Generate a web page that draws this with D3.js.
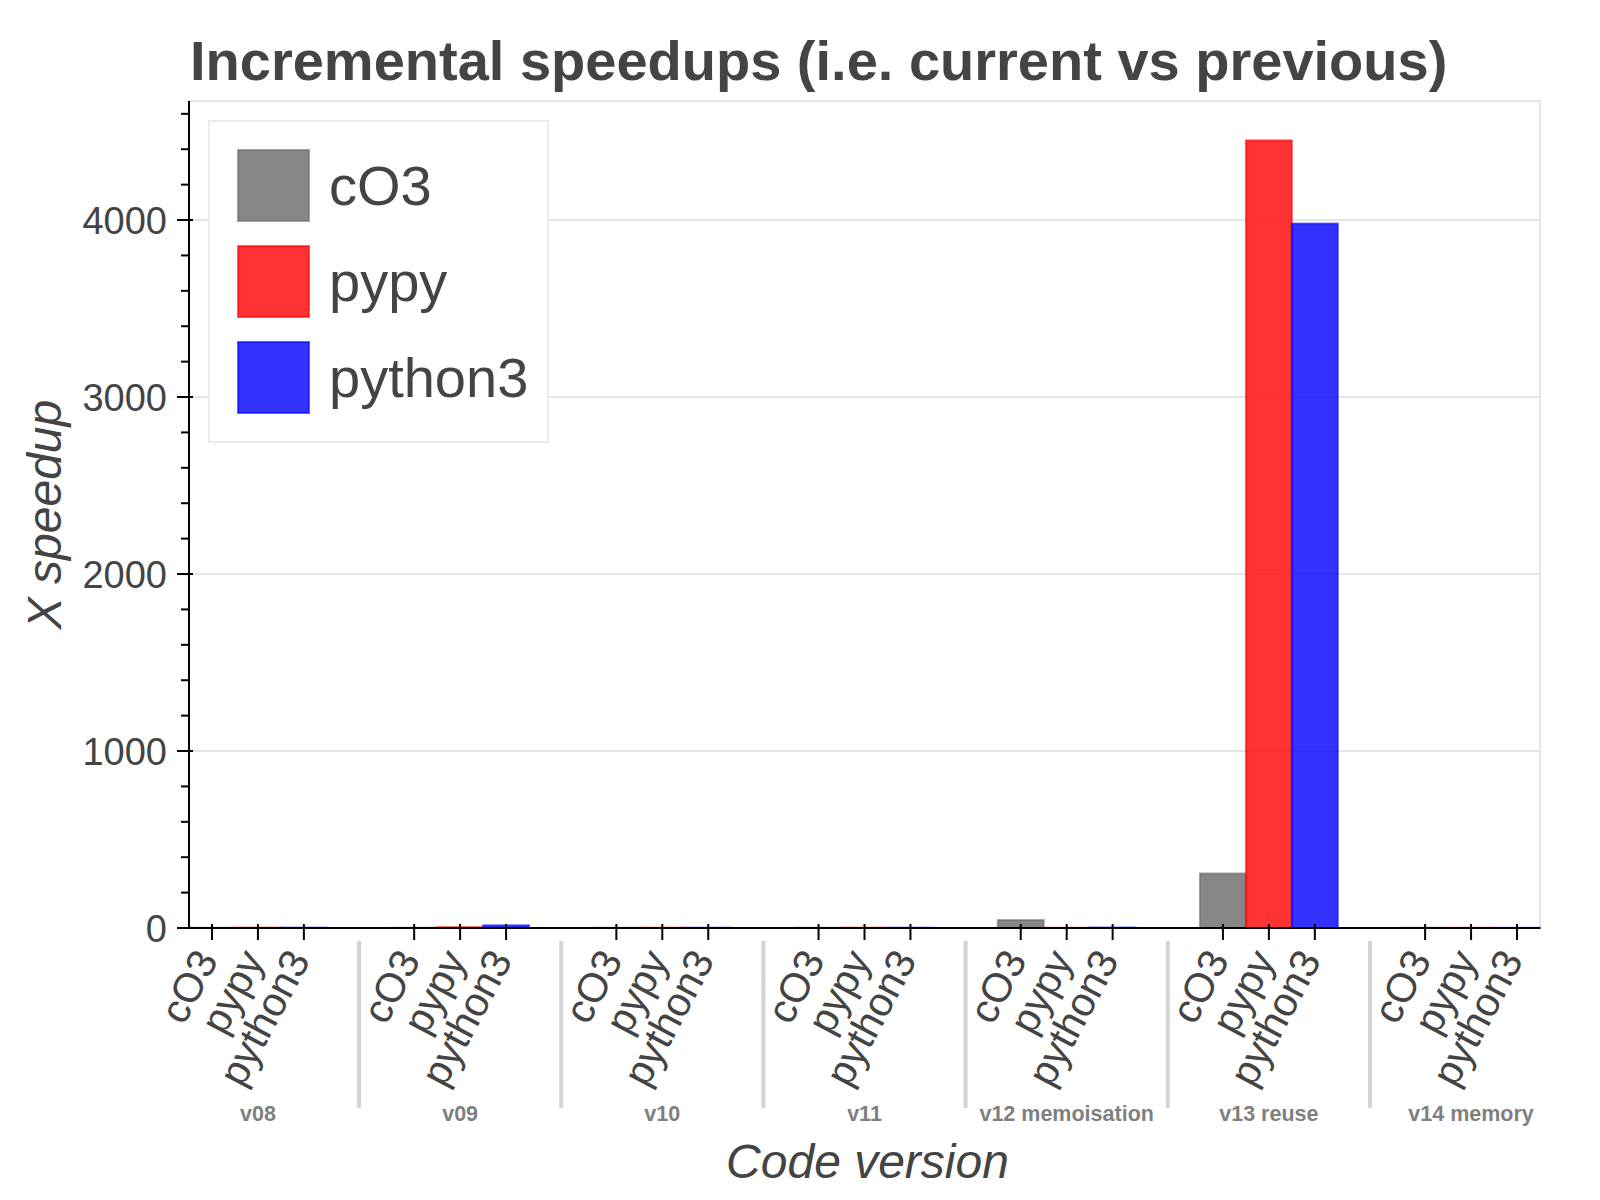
<!DOCTYPE html>
<html>
<head>
<meta charset="utf-8">
<script src="https://cdn.jsdelivr.net/npm/d3@7"></script>
<style>
  html, body { margin: 0; padding: 0; background: #fff; }
  svg { display: block; }
  text { font-family: "Liberation Sans", Arial, Helvetica, sans-serif; }
</style>
</head>
<body>
<svg id="chart" width="1600" height="1200"></svg>
<script>
// ---- data ----
const groups = ["v08", "v09", "v10", "v11", "v12 memoisation", "v13 reuse", "v14 memory"];
const seriesNames = ["cO3", "pypy", "python3"];
const cO3Values     = [1.2, 1.5, 1.1, 1.3, 45, 308, 1.0];
const pypyValues    = [2.0, 5.0, 1.5, 1.6, 1.2, 4450, 1.1];
const python3Values = [1.8, 15, 1.4, 1.5, 2.5, 3980, 1.0];
const yTicks = [0, 1000, 2000, 3000, 4000];
const titleText = "Incremental speedups (i.e. current vs previous)";
const xLabel = "Code version";
const yLabel = "X speedup";

const seriesValues = { cO3: cO3Values, pypy: pypyValues, python3: python3Values };
const colors = { cO3: "#696969", pypy: "#ff0000", python3: "#0000ff" };

// ---- layout ----
const frame = { left: 189, right: 1540, top: 101, bottom: 928 };
const textColor = "#444444";

const svg = d3.select("#chart");

// categorical x: nested factors with group padding (Bokeh-like)
const groupPadding = 1.4;
const nPer = seriesNames.length;
const totalUnits = groups.length * nPer + (groups.length - 1) * groupPadding;
const xUnit = d3.scaleLinear().domain([0, totalUnits]).range([frame.left, frame.right]);
function factorCenter(gi, si) { return xUnit(gi * (nPer + groupPadding) + si + 0.5); }
function groupCenter(gi) { return xUnit(gi * (nPer + groupPadding) + nPer / 2); }
function separatorX(gi) { return xUnit(gi * (nPer + groupPadding) + nPer + groupPadding / 2); }
const unitPx = xUnit(1) - xUnit(0);

const maxVal = d3.max(seriesNames.flatMap(s => seriesValues[s]));
const yMax = maxVal * 1.05;
const y = d3.scaleLinear().domain([0, yMax]).range([frame.bottom, frame.top]);

// frame outline
svg.append("rect")
  .attr("x", frame.left).attr("y", frame.top)
  .attr("width", frame.right - frame.left).attr("height", frame.bottom - frame.top)
  .attr("fill", "#fff").attr("stroke", "#e5e5e5").attr("stroke-width", 2);

// grid
svg.append("g").selectAll("line").data(yTicks.filter(t => t > 0)).join("line")
  .attr("x1", frame.left).attr("x2", frame.right)
  .attr("y1", d => y(d)).attr("y2", d => y(d))
  .attr("stroke", "#e5e5e5").attr("stroke-width", 2);

// bars
const barData = [];
groups.forEach((g, gi) => seriesNames.forEach((s, si) => barData.push({ g, gi, s, si, v: seriesValues[s][gi] })));
svg.append("g").selectAll("rect").data(barData).join("rect")
  .attr("x", d => factorCenter(d.gi, d.si) - unitPx / 2)
  .attr("width", unitPx)
  .attr("y", d => y(d.v))
  .attr("height", d => y(0) - y(d.v))
  .attr("fill", d => colors[d.s]).attr("fill-opacity", 0.8)
  .attr("stroke", d => colors[d.s]).attr("stroke-opacity", 0.6).attr("stroke-width", 2);

// y axis
const yAxis = d3.axisLeft(y).tickValues(yTicks).tickSize(0).tickPadding(0).tickFormat(d3.format("d"));
const yAxisG = svg.append("g").attr("transform", `translate(${frame.left},0)`);
yAxisG.append("line").attr("x1", 0).attr("x2", 0).attr("y1", frame.top).attr("y2", frame.bottom + 1)
  .attr("stroke", "#000").attr("stroke-width", 2);
const minorTicks = d3.range(0, yMax, 200).filter(v => v % 1000 !== 0);
yAxisG.selectAll("line.minor").data(minorTicks).join("line").attr("class", "minor")
  .attr("x1", -8).attr("x2", 0).attr("y1", d => y(d)).attr("y2", d => y(d))
  .attr("stroke", "#000").attr("stroke-width", 2);
yAxisG.selectAll("line.major").data(yTicks).join("line").attr("class", "major")
  .attr("x1", -12).attr("x2", 4).attr("y1", d => y(d)).attr("y2", d => y(d))
  .attr("stroke", "#000").attr("stroke-width", 2);
const yLab = svg.append("g").attr("transform", `translate(${frame.left - 22},0)`).call(yAxis);
yLab.select(".domain").remove();
yLab.selectAll(".tick line").remove();
yLab.selectAll(".tick text")
  .attr("font-family", "'Liberation Sans', Arial, sans-serif")
  .attr("font-size", 38).attr("fill", textColor).attr("dy", "0.36em").attr("x", 0);

// x axis
const xAxisG = svg.append("g");
xAxisG.append("line").attr("x1", frame.left - 1).attr("x2", frame.right).attr("y1", frame.bottom).attr("y2", frame.bottom)
  .attr("stroke", "#000").attr("stroke-width", 2);
const tickData = barData;
xAxisG.selectAll("line.tick").data(tickData).join("line").attr("class", "tick")
  .attr("x1", d => factorCenter(d.gi, d.si)).attr("x2", d => factorCenter(d.gi, d.si))
  .attr("y1", frame.bottom - 4).attr("y2", frame.bottom + 12)
  .attr("stroke", "#000").attr("stroke-width", 2);
// rotated factor labels
xAxisG.selectAll("text.factor").data(tickData).join("text").attr("class", "factor")
  .attr("transform", d => `translate(${factorCenter(d.gi, d.si) - 6},${frame.bottom + 25}) rotate(-62)`)
  .attr("text-anchor", "end").attr("dy", "0.36em")
  .attr("font-size", 41).attr("fill", textColor)
  .text(d => d.s);
// separators
xAxisG.selectAll("line.sep").data(d3.range(groups.length - 1)).join("line").attr("class", "sep")
  .attr("x1", d => separatorX(d)).attr("x2", d => separatorX(d))
  .attr("y1", frame.bottom + 13).attr("y2", frame.bottom + 180)
  .attr("stroke", "#d3d3d3").attr("stroke-width", 4);
// group labels
xAxisG.selectAll("text.group").data(groups).join("text").attr("class", "group")
  .attr("x", (d, i) => groupCenter(i)).attr("y", 1121)
  .attr("text-anchor", "middle").attr("font-size", 21.5).attr("font-weight", "bold")
  .attr("fill", "#7f7f7f").text(d => d);

// axis titles
svg.append("text").attr("x", (frame.left + frame.right) / 2 + 3).attr("y", 1178)
  .attr("text-anchor", "middle").attr("font-size", 48).attr("font-style", "italic")
  .attr("fill", textColor).text(xLabel);
svg.append("text").attr("transform", `translate(61,${(frame.top + frame.bottom) / 2}) rotate(-90)`)
  .attr("text-anchor", "middle").attr("font-size", 48).attr("font-style", "italic")
  .attr("fill", textColor).text(yLabel);

// title
svg.append("text").attr("x", frame.left + 1).attr("y", 80)
  .attr("font-size", 56).attr("font-weight", "bold").attr("fill", textColor).text(titleText);

// legend
const legend = svg.append("g");
legend.append("rect").attr("x", 209).attr("y", 121).attr("width", 339).attr("height", 321)
  .attr("fill", "#fff").attr("stroke", "#ebebeb").attr("stroke-width", 2);
const legItems = legend.selectAll("g.item").data(seriesNames).join("g").attr("class", "item")
  .attr("transform", (d, i) => `translate(238,${150 + i * 96})`);
legItems.append("rect").attr("width", 71).attr("height", 71)
  .attr("fill", d => colors[d]).attr("fill-opacity", 0.8)
  .attr("stroke", d => colors[d]).attr("stroke-opacity", 0.6).attr("stroke-width", 2);
legItems.append("text").attr("x", 91).attr("y", 35).attr("dy", "0.36em")
  .attr("font-size", 56).attr("fill", textColor).text(d => d);
</script>
</body>
</html>
